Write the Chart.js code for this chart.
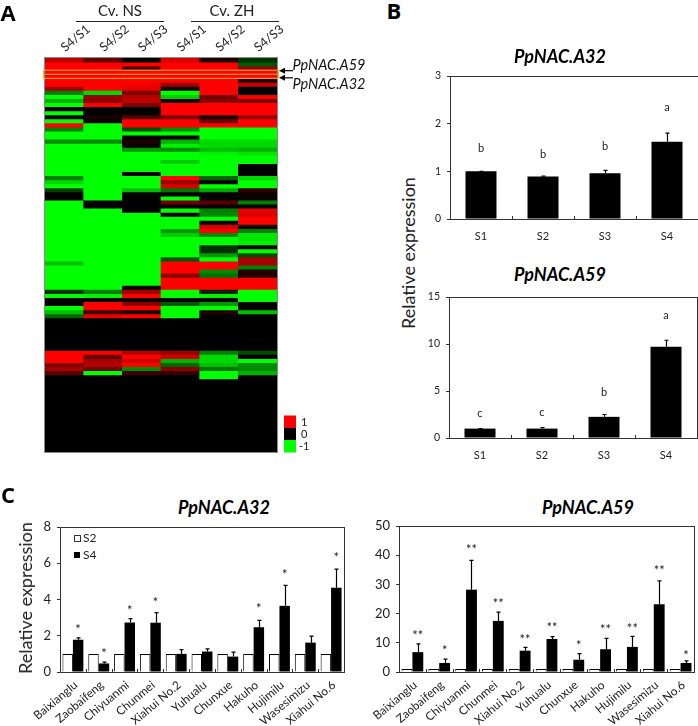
<!DOCTYPE html>
<html>
<head>
<meta charset="utf-8">
<style>
  html, body { margin: 0; padding: 0; background: #fff; }
  #page { position: relative; width: 698px; height: 726px; overflow: hidden; font-family: Lato, sans-serif; color: #111; }
  #page canvas { position: absolute; }
  .txt { position: absolute; white-space: nowrap; transform: translate(-50%, -50%); }
  .rule { position: absolute; height: 1px; background: #222; }
</style>
<script src="https://cdn.jsdelivr.net/npm/chart.js@4/dist/chart.umd.min.js"></script>
</head>
<body>
<div id="page"></div>
<script>
// heatmap, one list per column, top row first
const heatLabels = ['S4/S1', 'S4/S2', 'S4/S3', 'S4/S1', 'S4/S2', 'S4/S3'];
const heatNs1 = [
  .75,1,1,1,1,1,1,.65,-.5,-1,
  -.7,-1,0,-1,0,-1,1,-.5,-1,-1,
  -.55,-1,-1,-1,-1,-1,-1,-1,-1,-.5,
  -.85,-1,-.25,0,0,-1,-1,-1,-1,-1,
  -1,-1,-1,-1,-1,-1,-1,-1,-1,-1,
  -.75,-1,-1,-1,-1,-1,-1,-.2,-1,0,
  0,-1,-.75,-.4,0,0,0,0,0,0,
  0,0,1,1,1,.5,.65,.35,0,0,
  0,0,0,0,0,0,0,0,0,0,
  0,0,0,0,0,0,0];
const heatNs2 = [
  .4,1,1,1,1,1,1,1,-.85,.6,
  .55,1,0,0,.1,.05,-1,-1,-1,-1,
  -.55,-1,-1,-1,-1,-1,-1,-1,-1,-1,
  -1,-1,-1,-1,-1,0,0,-1,-1,-1,
  -1,-1,-1,-1,-1,-1,-1,-1,-1,-1,
  -1,-1,-1,-1,-1,-1,-1,-.5,-.95,0,
  1,1,.25,.9,0,0,0,0,0,0,
  0,0,1,.4,.65,.7,.45,-1,0,0,
  0,0,0,0,0,0,0,0,0,0,
  0,0,0,0,0,0,0];
const heatNs3 = [
  0,1,.3,1,1,1,.95,.9,.5,.7,
  .75,.5,0,0,.3,1,1,-.3,-1,0,
  .1,.05,-.6,-1,-1,-1,-1,-1,0,-1,
  -1,-1,-.75,0,0,0,0,0,-1,-1,
  -1,-1,-1,-1,-1,-1,-1,-1,-1,-1,
  -1,-1,-1,-1,-1,-1,0,.65,1,.05,
  .55,1,.1,1,0,0,0,0,0,0,
  0,0,.7,1,.8,1,-.55,.25,0,0,
  0,0,0,0,0,0,0,0,0,0,
  0,0,0,0,0,0,0];
const heatZh1 = [
  .85,1,1,1,1,1,.6,.1,-1,-.8,
  .1,1,1,1,.5,1,1,-.55,-1,0,
  -.7,-.95,-.55,-1,-1,-.8,-1,-1,-1,1,
  .6,.85,-.45,0,-1,.45,0,-1,0,-1,
  -1,-1,-.6,-.8,-1,-1,-1,-1,-1,-.35,
  1,1,1,.55,1,1,1,-1,-1,0,
  -.35,-1,-1,-1,0,0,0,0,0,0,
  0,0,.6,.8,-.7,-.4,.55,.2,0,0,
  0,0,0,0,0,0,0,0,0,0,
  0,0,0,0,0,0,0];
const heatZh2 = [
  .1,1,1,1,1,1,1,1,1,.45,
  .55,1,1,1,.1,.45,1,-1,-1,-1,
  -.85,-.85,-.75,-.95,-1,-1,-1,-1,-1,-.4,
  0,-1,-.65,0,0,.35,.05,-.5,-.55,-1,
  .03,.8,1,-.55,-1,-1,-.2,-.2,-.6,-1,
  1,1,-.55,-.45,1,1,1,-.15,-.95,0,
  -.6,-1,.15,0,0,0,0,0,0,0,
  0,0,-.5,-.85,-.85,-.75,-.45,-1,-1,0,
  0,0,0,0,0,0,0,0,0,0,
  0,0,0,0,0,0,0];
const heatZh3 = [
  -.2,-.35,.6,1,1,.15,.8,0,0,1,
  .5,1,1,1,.6,1,1,-1,-1,-1,
  -.85,-.85,-.7,-.9,-1,-1,0,0,0,-.85,
  -1,-1,.2,.05,.05,-.5,0,.9,.85,1,
  1,.1,-.5,-.9,-.9,-.95,.1,-1,-.3,.65,
  .65,-.5,.15,.15,1,1,1,-1,-1,-1,
  0,0,-.75,0,0,0,0,0,0,0,
  0,0,-.3,0,-1,-.55,-.55,-.7,0,0,
  0,0,0,0,0,0,0,0,0,0,
  0,0,0,0,0,0,0];
const heatColumns = [heatNs1, heatNs2, heatNs3, heatZh1, heatZh2, heatZh3];
const heatScale = [1, 0, -1];

// panel B
const stages = ['S1', 'S2', 'S3', 'S4'];
const a32Stage = [1, 0.89, 0.96, 1.62];
const a32StageTop = [1, 0.9, 1.02, 1.8];
const a32StageLetters = ['b', 'b', 'b', 'a'];
const a32StageLetterAt = [1.47, 1.36, 1.52, 2.35];
const a59Stage = [1, 1, 2.25, 9.7];
const a59StageTop = [1, 1.1, 2.5, 10.4];
const a59StageLetters = ['c', 'c', 'b', 'a'];
const a59StageLetterAt = [2.6, 2.77, 4.86, 13.05];

// panel C
const cultivars = ['Baixianglu', 'Zaobaifeng', 'Chiyuanmi', 'Chunmei', 'Xiahui No.2', 'Yuhualu', 'Chunxue', 'Hakuho', 'Hujimilu', 'Wasesimizu', 'Xiahui No.6'];
const s2Base = [1, 1, 1, 1, 1, 1, 1, 1, 1, 1, 1];
const a32S4 = [1.78, 0.47, 2.73, 2.72, 1.0, 1.13, 0.85, 2.47, 3.65, 1.62, 4.65];
const a32S4Top = [1.88, 0.55, 2.95, 3.28, 1.24, 1.28, 1.1, 2.85, 4.78, 1.98, 5.68];
const a32Stars = ['*', '*', '*', '*', '', '', '', '*', '*', '', '*'];
const a32StarAt = [2.45, 1.1, 3.5, 3.94, 0, 0, 0, 3.57, 5.5, 0, 6.4];
const a59S4 = [6.8, 3.1, 28.2, 17.5, 7.3, 11.3, 4.2, 7.8, 8.6, 23.2, 3.1];
const a59S4Top = [9.6, 4.4, 38.2, 20.5, 8.4, 12.1, 6.3, 11.5, 12.2, 31.2, 3.8];
const a59Stars = ['**', '*', '**', '**', '**', '**', '*', '**', '**', '**', '*'];
const a59StarAt = [13.2, 8, 42.6, 23.9, 11.6, 15.8, 9.6, 15.2, 15.4, 35.2, 6.2];

const page = document.getElementById('page');
const FONT = 'Lato, sans-serif';

function addText(text, x, y, css, angle) {
  const el = document.createElement('div');
  el.className = 'txt';
  el.textContent = text;
  el.style.cssText = `left:${x}px;top:${y}px;${css}`;
  if (angle) el.style.transform = `translate(-50%,-50%) rotate(${angle}deg)`;
  page.appendChild(el);
}

function addRule(x1, x2, y) {
  const el = document.createElement('div');
  el.className = 'rule';
  el.style.cssText = `left:${x1}px;width:${x2 - x1}px;top:${y}px`;
  page.appendChild(el);
}

function addCanvas(left, top, width, height) {
  const c = document.createElement('canvas');
  c.width = width;
  c.height = height;
  c.style.left = left + 'px';
  c.style.top = top + 'px';
  c.style.width = width + 'px';
  c.style.height = height + 'px';
  page.appendChild(c);
  return c;
}

function heatColor(v) {
  const n = Math.round(Math.abs(v) * 255);
  return v >= 0 ? `rgb(${n},0,0)` : `rgb(0,${n},0)`;
}

// frame, inward ticks between categories, error bars, letters and stars
function barExtras(cfg) {
  return {
    id: 'barExtras',
    afterDatasetsDraw(chart) {
      const { ctx, chartArea: a, scales: { x, y } } = chart;
      const bars = chart.getDatasetMeta(cfg.markDataset).data;
      ctx.save();
      ctx.strokeStyle = '#000';
      ctx.fillStyle = '#222';
      ctx.lineWidth = 1.2;
      cfg.tops.forEach((top, i) => {
        const px = Math.round(bars[i].x) + 0.5;
        const py = y.getPixelForValue(top);
        ctx.beginPath();
        ctx.moveTo(px, bars[i].y);
        ctx.lineTo(px, py);
        ctx.moveTo(px - 2, py);
        ctx.lineTo(px + 2, py);
        ctx.stroke();
      });
      ctx.font = cfg.markFont;
      ctx.textAlign = 'center';
      ctx.textBaseline = 'middle';
      cfg.marks.forEach((m, i) => {
        if (m) ctx.fillText(m, bars[i].x, y.getPixelForValue(cfg.markAt[i]) + cfg.markShift);
      });
      ctx.lineWidth = 1;
      ctx.strokeStyle = '#333';
      const half = (x.getPixelForTick(1) - x.getPixelForTick(0)) / 2;
      for (let i = 0; i < x.ticks.length - 1; i++) {
        const px = Math.round(x.getPixelForTick(i) + half) + 0.5;
        ctx.beginPath();
        ctx.moveTo(px, a.bottom);
        ctx.lineTo(px, a.bottom - 3);
        ctx.stroke();
      }
      ctx.strokeRect(Math.round(a.left) + 0.5, Math.round(a.top) + 0.5, Math.round(a.width), Math.round(a.height));
      if (cfg.legend) {
        ctx.font = '12px ' + FONT;
        ctx.textAlign = 'left';
        cfg.legend.forEach((name, i) => {
          const bx = a.left + 14, by = a.top + 8 + i * 17;
          ctx.fillStyle = i ? '#000' : '#fff';
          ctx.fillRect(bx, by, 6, 6);
          if (!i) ctx.strokeRect(bx + 0.5, by + 0.5, 6, 6);
          ctx.fillStyle = '#222';
          ctx.fillText(name, bx + 9, by + 3);
        });
      }
      ctx.restore();
    }
  };
}

function barChart(plot, cfg) {
  const canvas = addCanvas(plot.l - cfg.ml, plot.t - 8, cfg.ml + plot.w + 3, 8 + plot.h + cfg.mb);
  new Chart(canvas, {
    type: 'bar',
    data: { labels: cfg.labels, datasets: cfg.datasets },
    plugins: [barExtras(cfg)],
    options: {
      responsive: false,
      animation: false,
      layout: { padding: { top: 8, right: 3 } },
      plugins: { legend: { display: false }, tooltip: { enabled: false } },
      scales: {
        x: {
          afterFit: s => { s.height = cfg.mb; s.paddingLeft = 0; s.paddingRight = 0; },
          grid: { display: false, drawTicks: false },
          border: { color: '#333' },
          ticks: { color: '#222', font: { family: FONT, size: cfg.xSize }, padding: cfg.xPad, labelOffset: cfg.xOffset, autoSkip: false, minRotation: cfg.rot, maxRotation: cfg.rot }
        },
        y: {
          min: 0,
          max: cfg.yMax,
          afterFit: s => { s.width = cfg.ml; s.paddingTop = 0; s.paddingBottom = 0; },
          grid: { drawOnChartArea: false, tickLength: 3, color: '#333' },
          border: { color: '#333' },
          ticks: { stepSize: cfg.yStep, color: '#222', font: { family: FONT, size: cfg.ySize }, padding: cfg.yPad }
        }
      }
    }
  });
}

function stageDatasets(values) {
  return [{ data: values, backgroundColor: '#000', barPercentage: 0.5, categoryPercentage: 1 }];
}

function cultivarDatasets(values) {
  return [
    { data: s2Base, backgroundColor: '#fff', borderColor: '#000', borderWidth: 1, barPercentage: 1, categoryPercentage: 0.81 },
    { data: values, backgroundColor: '#000', barPercentage: 1, categoryPercentage: 0.81 }
  ];
}

// panel A: heatmap as one floating bar per cell, one dataset per row.
// Each row starts a little above its slot, under the row before it, so no seams show.
const heatRows = heatNs1.map((_, r) => ({
  data: heatColumns.map(() => [r - 0.2, r + 1]),
  backgroundColor: heatColumns.map(col => heatColor(col[r])),
  borderWidth: 0,
  barPercentage: 1,
  categoryPercentage: 1,
  grouped: false
}));

const heatExtras = {
  id: 'heatExtras',
  afterDatasetsDraw(chart) {
    const { ctx, chartArea: a, scales: { y } } = chart;
    ctx.save();
    ctx.strokeStyle = '#8a8a8a';
    ctx.lineWidth = 1;
    ctx.strokeRect(a.left - 0.5, a.top - 0.5, a.width + 1, a.height + 1);
    // gold box round the two marked genes
    ctx.strokeStyle = '#e8c020';
    ctx.lineWidth = 1;
    const y0 = y.getPixelForValue(3), y1 = y.getPixelForValue(4), y2 = y.getPixelForValue(5);
    ctx.strokeRect(a.left - 1.5, y0, a.width + 3, y2 - y0);
    ctx.beginPath();
    ctx.moveTo(a.left, y1);
    ctx.lineTo(a.right, y1);
    ctx.stroke();
    // arrows
    ctx.strokeStyle = '#000';
    ctx.fillStyle = '#000';
    [y0 + 0.5, y2 - 0.5].forEach(py => {
      ctx.lineWidth = 1.2;
      ctx.beginPath();
      ctx.moveTo(a.right + 16, py);
      ctx.lineTo(a.right + 5, py);
      ctx.stroke();
      ctx.beginPath();
      ctx.moveTo(a.right + 2, py);
      ctx.lineTo(a.right + 8, py - 3);
      ctx.lineTo(a.right + 8, py + 3);
      ctx.closePath();
      ctx.fill();
    });
    // colour key
    ctx.font = '11px ' + FONT;
    ctx.textBaseline = 'middle';
    ctx.textAlign = 'left';
    heatScale.forEach((v, i) => {
      const top = 415.5 + i * 12.3;
      ctx.fillStyle = heatColor(v);
      ctx.fillRect(284, top, 12, 12.4);
      ctx.fillStyle = '#222';
      ctx.fillText(String(v), v < 0 ? 299 : 301, top + 6.5);
    });
    ctx.restore();
  }
};

new Chart(addCanvas(0, 0, 370, 470), {
  type: 'bar',
  data: { labels: heatLabels, datasets: heatRows },
  plugins: [heatExtras],
  options: {
    responsive: false,
    animation: false,
    layout: { padding: { left: 45, right: 93, bottom: 18 } },
    plugins: { legend: { display: false }, tooltip: { enabled: false } },
    scales: {
      x: {
        position: 'top',
        afterFit: s => { s.height = 58; s.paddingLeft = 0; s.paddingRight = 0; },
        grid: { display: false, drawTicks: false },
        border: { display: false },
        ticks: { color: '#222', font: { family: FONT, size: 12.5 }, padding: 3, labelOffset: 8, autoSkip: false, minRotation: 40, maxRotation: 40 }
      },
      y: { display: false, reverse: true, min: 0, max: heatNs1.length }
    }
  }
});

// panel B
barChart({ l: 450, t: 76, w: 248, h: 143 }, {
  ml: 30, mb: 26, labels: stages, datasets: stageDatasets(a32Stage), yMax: 3, yStep: 1,
  tops: a32StageTop, marks: a32StageLetters, markAt: a32StageLetterAt, markDataset: 0, markFont: '11px ' + FONT, markShift: 0,
  xSize: 11, xPad: 11, xOffset: 0, ySize: 10.5, yPad: 6, rot: 0
});
barChart({ l: 449, t: 297, w: 248, h: 141 }, {
  ml: 30, mb: 26, labels: stages, datasets: stageDatasets(a59Stage), yMax: 15, yStep: 5,
  tops: a59StageTop, marks: a59StageLetters, markAt: a59StageLetterAt, markDataset: 0, markFont: '11px ' + FONT, markShift: 0,
  xSize: 11, xPad: 11, xOffset: 0, ySize: 10.5, yPad: 6, rot: 0
});

// panel C
barChart({ l: 60, t: 527, w: 284, h: 145 }, {
  ml: 36, mb: 54, labels: cultivars, datasets: cultivarDatasets(a32S4), yMax: 8, yStep: 2,
  tops: a32S4Top, marks: a32Stars, markAt: a32StarAt, markDataset: 1, markFont: '13px ' + FONT, markShift: 2, legend: ['S2', 'S4'],
  xSize: 11.8, xPad: 6, xOffset: 3, ySize: 13, yPad: 6, rot: 40
});
barChart({ l: 399, t: 526, w: 295, h: 146 }, {
  ml: 36, mb: 54, labels: cultivars, datasets: cultivarDatasets(a59S4), yMax: 50, yStep: 10,
  tops: a59S4Top, marks: a59Stars, markAt: a59StarAt, markDataset: 1, markFont: '13px ' + FONT, markShift: 2,
  xSize: 11.8, xPad: 6, xOffset: 3, ySize: 13, yPad: 6, rot: 40
});

// page text
const panelCss = 'font:bold 22px "Open Sans",sans-serif;color:#000;';
addText('A', 8, 12, panelCss);
addText('B', 394, 10, panelCss);
addText('C', 8, 494, panelCss);

const headCss = 'font-size:15px;color:#222;';
addText('Cv. NS', 120, 10, headCss);
addText('Cv. ZH', 232, 10, headCss);
addRule(76, 164, 21);
addRule(191, 279, 21);

const geneCss = 'font-size:14.5px;font-style:italic;color:#111;';
addText('PpNAC.A59', 329, 64, geneCss);
addText('PpNAC.A32', 329, 83, geneCss);

const titleCss = 'font-size:18px;font-weight:bold;font-style:italic;color:#000;';
addText('PpNAC.A32', 560, 56, titleCss);
addText('PpNAC.A59', 560, 274, titleCss);
addText('PpNAC.A32', 224, 507, titleCss);
addText('PpNAC.A59', 588, 507, titleCss);

const axisCss = 'font-size:18px;color:#222;';
addText('Relative expression', 408, 253, axisCss, -90);
addText('Relative expression', 25, 598, axisCss, -90);
</script>
</body>
</html>
